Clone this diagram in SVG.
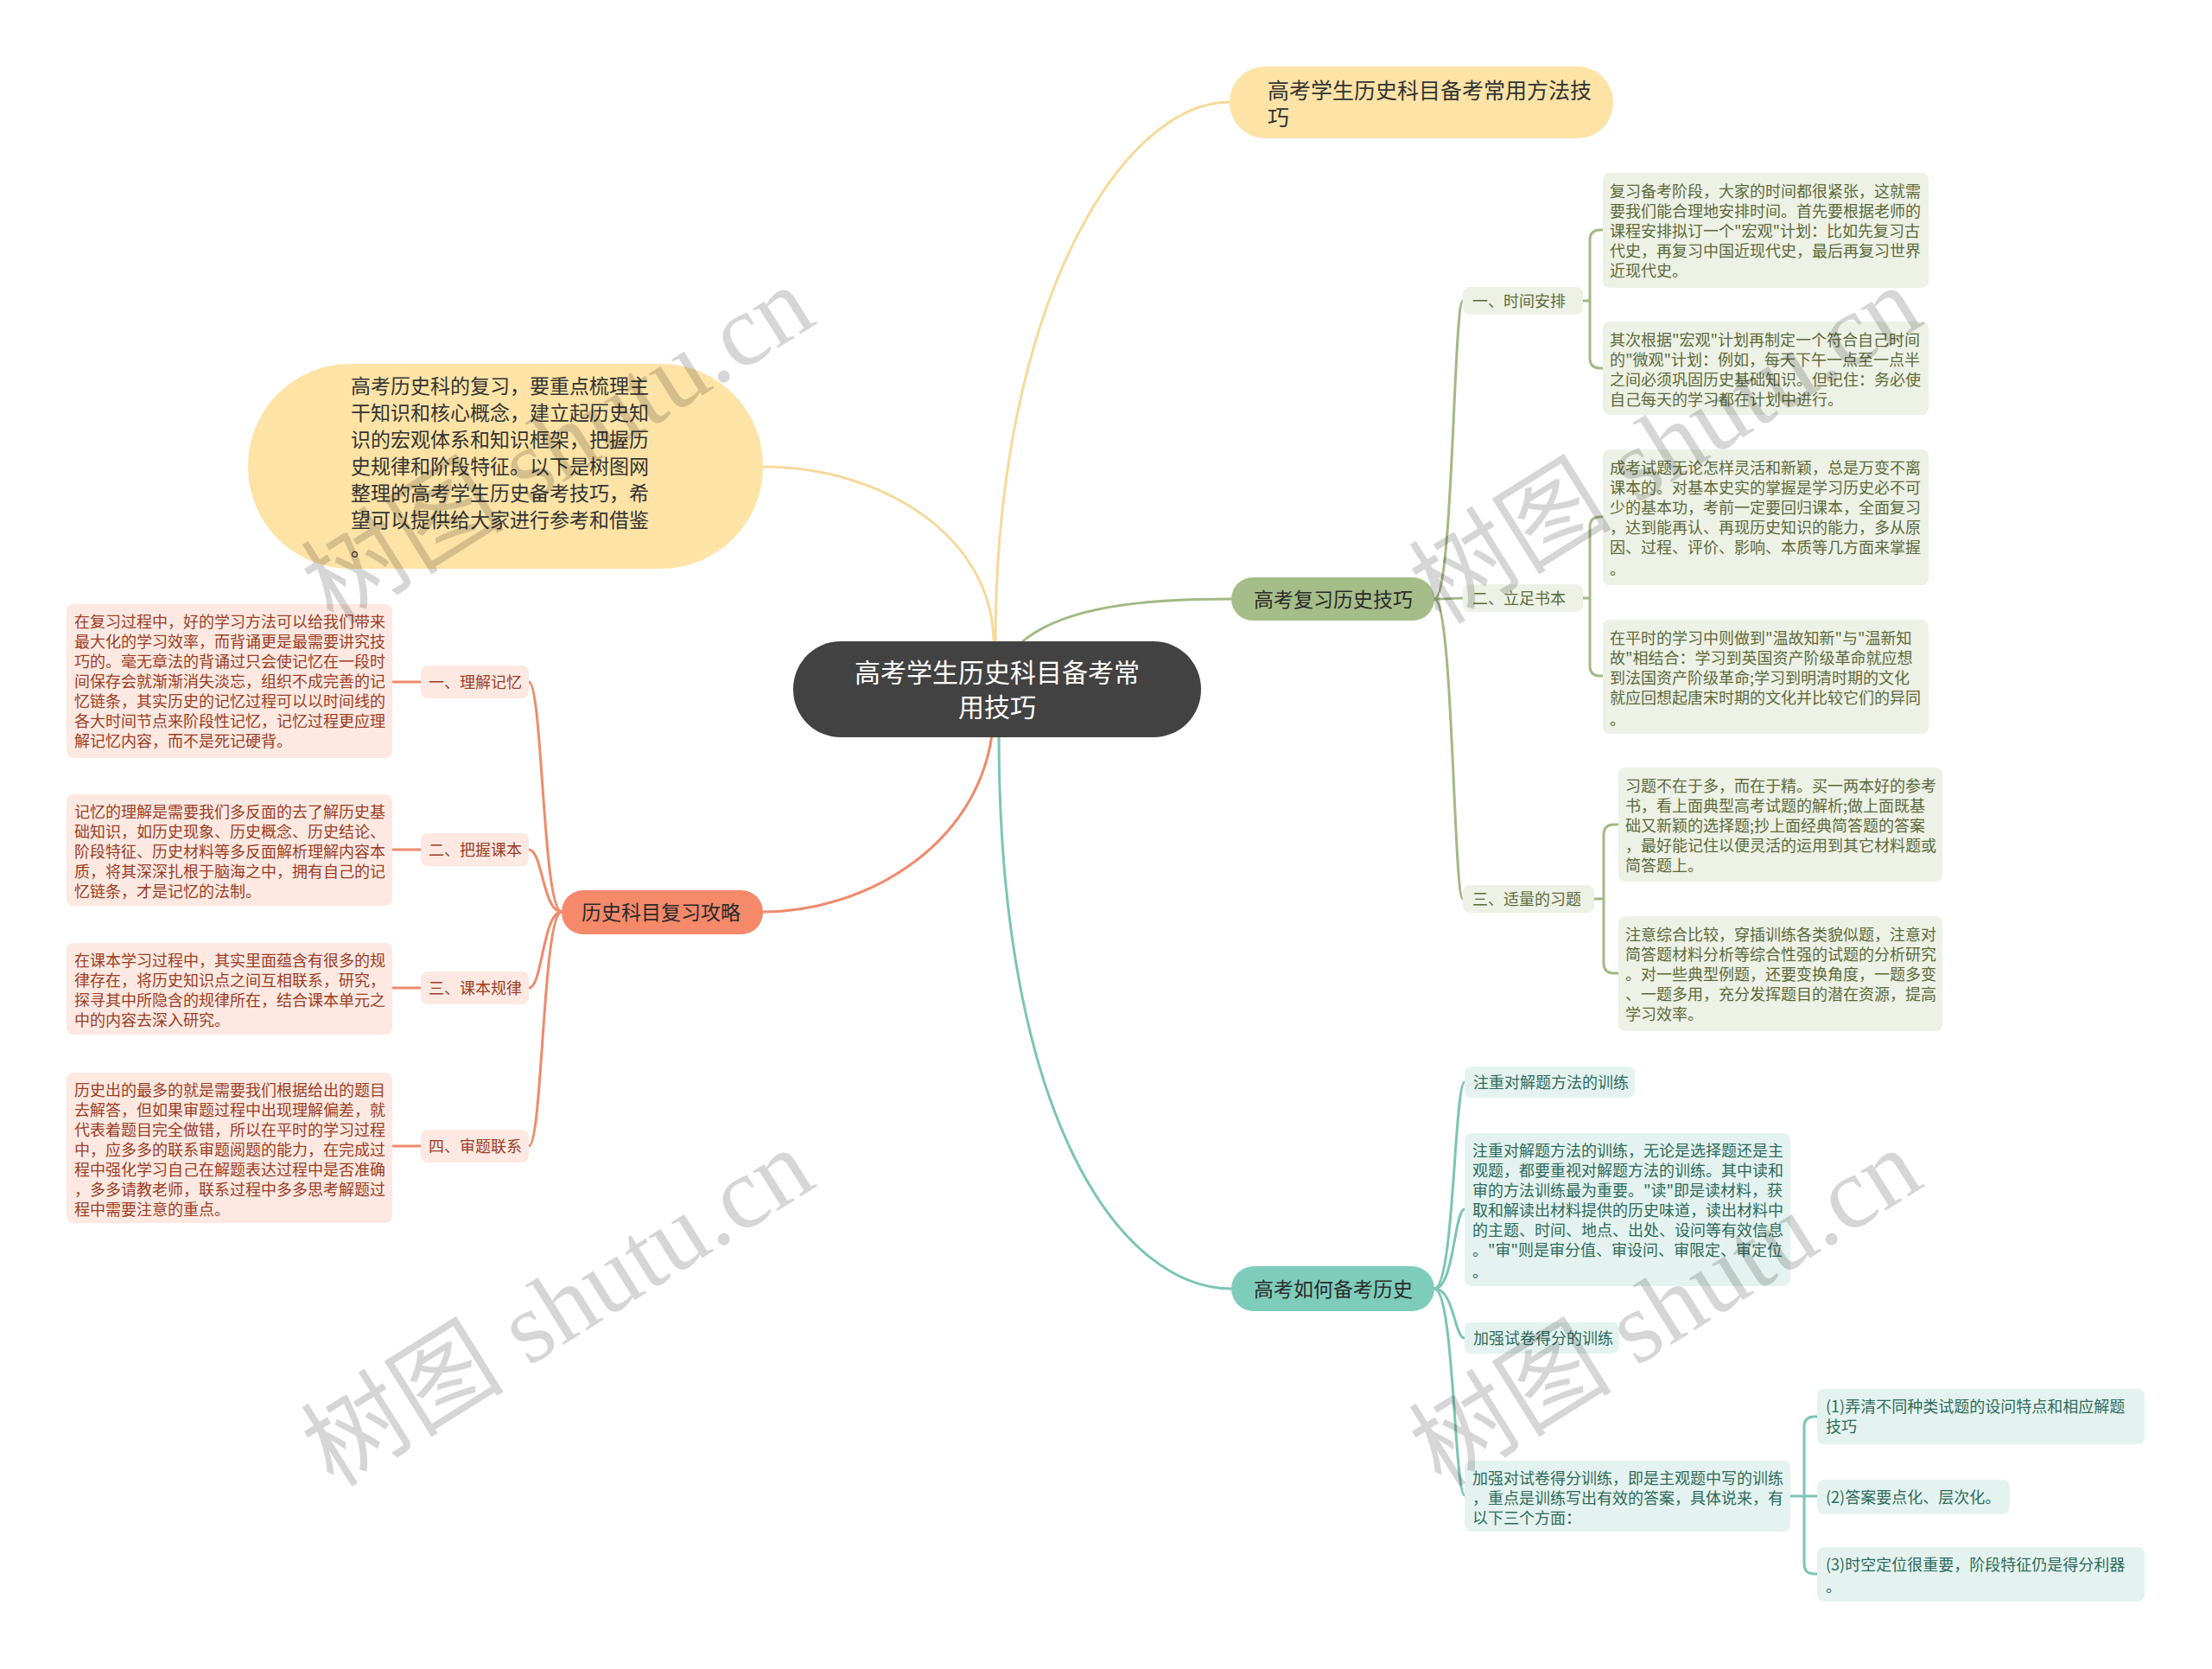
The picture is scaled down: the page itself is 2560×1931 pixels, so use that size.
<svg xmlns="http://www.w3.org/2000/svg" width="2560" height="1931" viewBox="0 0 2560 1931">
<style>
text{font-family:"Noto Sans CJK SC","Noto Sans",sans-serif;}
.c{fill:none;stroke-width:3;stroke-linecap:round}
.cy{stroke:#F7D99A}.cg{stroke:#A3B985}.co{stroke:#EE8B6C}.ct{stroke:#7CC5B3}
.bg{fill:#EEF1E6}.bo{fill:#FDE9E2}.bt{fill:#E4F3EF}
.tg{font-size:18px;fill:#5B6A3A}.to{font-size:18px;fill:#9C3D25}.tt{font-size:18px;fill:#2E6A5B}
.br{font-size:23px;fill:#2a2a2a}
.wm{font-family:"Liberation Serif","Noto Sans CJK SC",serif;font-size:118px;fill:#000;fill-opacity:0.16}
</style>
<rect width="2560" height="1931" fill="#fff"/>
<g id="connectors">
<path class="c cy" d="M1152,745 C1152,350 1300,118 1423,118"/>
<path class="c cy" d="M1150,745 C1150,620 1020,540 883,540"/>
<path class="c cg" d="M1180,745 C1230,700 1330,693 1425,693"/>
<path class="c co" d="M1148,850 C1130,980 1000,1055 883,1055"/>
<path class="c ct" d="M1156,850 C1156,1300 1300,1491 1425,1491"/>
<path class="c cg" d="M1660,693 C1682,693 1682,348 1693,348"/>
<path class="c cg" d="M1660,693 C1682,693 1682,692 1693,692"/>
<path class="c cg" d="M1660,693 C1682,693 1682,1040 1693,1040"/>
<path class="c cg" d="M1832,348 H1840 M1855,266 H1852 Q1840,266 1840,278 V414 Q1840,426 1852,426 H1855"/>
<path class="c cg" d="M1832,692 H1840 M1855,598 H1852 Q1840,598 1840,610 V770 Q1840,782 1852,782 H1855"/>
<path class="c cg" d="M1845,1040 H1856 M1873,954 H1868 Q1856,954 1856,966 V1114 Q1856,1126 1868,1126 H1873"/>
<path class="c co" d="M650,1055 C628,1055 628,789 612,789"/>
<path class="c co" d="M650,1055 C628,1055 628,983 612,983"/>
<path class="c co" d="M650,1055 C628,1055 628,1143 612,1143"/>
<path class="c co" d="M650,1055 C628,1055 628,1326 612,1326"/>
<path class="c co" d="M454,789 H487 M454,983 H487 M454,1143 H487 M454,1326 H487"/>
<path class="c ct" d="M1660,1491 C1683,1491 1683,1252 1695,1252"/>
<path class="c ct" d="M1660,1491 C1683,1491 1683,1399 1695,1399"/>
<path class="c ct" d="M1660,1491 C1683,1491 1683,1548 1695,1548"/>
<path class="c ct" d="M1660,1491 C1683,1491 1683,1730 1695,1730"/>
<path class="c ct" d="M2072,1731 H2103 M2103,1639 H2100 Q2088,1639 2088,1651 V1809 Q2088,1821 2100,1821 H2103"/>
</g>
<g id="root">
<rect x="918" y="742" width="472" height="111" rx="55" fill="#424242"/>
<text x="1154" y="789" font-size="30" fill="#fff" text-anchor="middle">高考学生历史科目备考常</text>
<text x="1154" y="829" font-size="30" fill="#fff" text-anchor="middle">用技巧</text>
</g>
<g id="n-top">
<rect x="1423" y="77" width="444" height="83" rx="41" fill="#FDE3A6"/>
<text x="1467" y="114" font-size="25" fill="#333">高考学生历史科目备考常用方法技</text>
<text x="1467" y="145" font-size="25" fill="#333">巧</text>
</g>
<g id="n-intro">
<rect x="287" y="421" width="596" height="237" rx="118" fill="#FDE3A6"/>
<g font-size="23" fill="#333">
<text x="406" y="455">高考历史科的复习，要重点梳理主</text>
<text x="406" y="486">干知识和核心概念，建立起历史知</text>
<text x="406" y="517">识的宏观体系和知识框架，把握历</text>
<text x="406" y="548">史规律和阶段特征。以下是树图网</text>
<text x="406" y="579">整理的高考学生历史备考技巧，希</text>
<text x="406" y="610">望可以提供给大家进行参考和借鉴</text>
<text x="406" y="643">。</text>
</g>
</g>
<g id="n-green">
<rect x="1425" y="668" width="235" height="50" rx="25" fill="#A5BD88"/>
<text class="br" x="1451" y="702">高考复习历史技巧</text>
</g>
<g id="n-orange">
<rect x="650" y="1030" width="233" height="51" rx="25" fill="#F5896A"/>
<text class="br" x="673" y="1064">历史科目复习攻略</text>
</g>
<g id="n-teal">
<rect x="1425" y="1465" width="235" height="52" rx="26" fill="#7ECDBB"/>
<text class="br" x="1451" y="1500">高考如何备考历史</text>
</g>
<g id="g-l1">
<rect class="bg" x="1693" y="332" width="139" height="32" rx="8"/>
<text class="tg" x="1704" y="355">一、时间安排</text>
</g>
<g id="g-l2">
<rect class="bg" x="1693" y="676" width="139" height="32" rx="8"/>
<text class="tg" x="1704" y="699">二、立足书本</text>
</g>
<g id="g-l3">
<rect class="bg" x="1693" y="1024" width="152" height="32" rx="8"/>
<text class="tg" x="1704" y="1047">三、适量的习题</text>
</g>
<g id="g-b1">
<rect class="bg" x="1855" y="200" width="377" height="133" rx="8"/>
<text class="tg" x="1863" y="228">复习备考阶段，大家的时间都很紧张，这就需</text>
<text class="tg" x="1863" y="251">要我们能合理地安排时间。首先要根据老师的</text>
<text class="tg" x="1863" y="274">课程安排拟订一个"宏观"计划：比如先复习古</text>
<text class="tg" x="1863" y="297">代史，再复习中国近现代史，最后再复习世界</text>
<text class="tg" x="1863" y="320">近现代史。</text>
</g>
<g id="g-b2">
<rect class="bg" x="1855" y="372" width="377" height="108" rx="8"/>
<text class="tg" x="1863" y="400">其次根据"宏观"计划再制定一个符合自己时间</text>
<text class="tg" x="1863" y="423">的"微观"计划：例如，每天下午一点至一点半</text>
<text class="tg" x="1863" y="446">之间必须巩固历史基础知识。但记住：务必使</text>
<text class="tg" x="1863" y="469">自己每天的学习都在计划中进行。</text>
</g>
<g id="g-b3">
<rect class="bg" x="1855" y="520" width="377" height="157" rx="8"/>
<text class="tg" x="1863" y="548">成考试题无论怎样灵活和新颖，总是万变不离</text>
<text class="tg" x="1863" y="571">课本的。对基本史实的掌握是学习历史必不可</text>
<text class="tg" x="1863" y="594">少的基本功，考前一定要回归课本，全面复习</text>
<text class="tg" x="1863" y="617">，达到能再认、再现历史知识的能力，多从原</text>
<text class="tg" x="1863" y="640">因、过程、评价、影响、本质等几方面来掌握</text>
<text class="tg" x="1863" y="665">。</text>
</g>
<g id="g-b4">
<rect class="bg" x="1855" y="717" width="377" height="132" rx="8"/>
<text class="tg" x="1863" y="745">在平时的学习中则做到"温故知新"与"温新知</text>
<text class="tg" x="1863" y="768">故"相结合：学习到英国资产阶级革命就应想</text>
<text class="tg" x="1863" y="791">到法国资产阶级革命;学习到明清时期的文化</text>
<text class="tg" x="1863" y="814">就应回想起唐宋时期的文化并比较它们的异同</text>
<text class="tg" x="1863" y="839">。</text>
</g>
<g id="g-b5">
<rect class="bg" x="1873" y="888" width="375" height="132" rx="8"/>
<text class="tg" x="1881" y="916">习题不在于多，而在于精。买一两本好的参考</text>
<text class="tg" x="1881" y="939">书，看上面典型高考试题的解析;做上面既基</text>
<text class="tg" x="1881" y="962">础又新颖的选择题;抄上面经典简答题的答案</text>
<text class="tg" x="1881" y="985">，最好能记住以便灵活的运用到其它材料题或</text>
<text class="tg" x="1881" y="1008">简答题上。</text>
</g>
<g id="g-b6">
<rect class="bg" x="1873" y="1060" width="375" height="133" rx="8"/>
<text class="tg" x="1881" y="1088">注意综合比较，穿插训练各类貌似题，注意对</text>
<text class="tg" x="1881" y="1111">简答题材料分析等综合性强的试题的分析研究</text>
<text class="tg" x="1881" y="1134">。对一些典型例题，还要变换角度，一题多变</text>
<text class="tg" x="1881" y="1157">、一题多用，充分发挥题目的潜在资源，提高</text>
<text class="tg" x="1881" y="1180">学习效率。</text>
</g>
<g id="o-l1">
<rect class="bo" x="487" y="770" width="125" height="38" rx="8"/>
<text class="to" x="496" y="796">一、理解记忆</text>
</g>
<g id="o-l2">
<rect class="bo" x="487" y="964" width="125" height="38" rx="8"/>
<text class="to" x="496" y="990">二、把握课本</text>
</g>
<g id="o-l3">
<rect class="bo" x="487" y="1124" width="125" height="38" rx="8"/>
<text class="to" x="496" y="1150">三、课本规律</text>
</g>
<g id="o-l4">
<rect class="bo" x="487" y="1307" width="125" height="38" rx="8"/>
<text class="to" x="496" y="1333">四、审题联系</text>
</g>
<g id="o-b1">
<rect class="bo" x="77" y="699" width="377" height="178" rx="8"/>
<text class="to" x="86" y="726">在复习过程中，好的学习方法可以给我们带来</text>
<text class="to" x="86" y="749">最大化的学习效率，而背诵更是最需要讲究技</text>
<text class="to" x="86" y="772">巧的。毫无章法的背诵过只会使记忆在一段时</text>
<text class="to" x="86" y="795">间保存会就渐渐消失淡忘，组织不成完善的记</text>
<text class="to" x="86" y="818">忆链条，其实历史的记忆过程可以以时间线的</text>
<text class="to" x="86" y="841">各大时间节点来阶段性记忆，记忆过程更应理</text>
<text class="to" x="86" y="864">解记忆内容，而不是死记硬背。</text>
</g>
<g id="o-b2">
<rect class="bo" x="77" y="919" width="377" height="129" rx="8"/>
<text class="to" x="86" y="946">记忆的理解是需要我们多反面的去了解历史基</text>
<text class="to" x="86" y="969">础知识，如历史现象、历史概念、历史结论、</text>
<text class="to" x="86" y="992">阶段特征、历史材料等多反面解析理解内容本</text>
<text class="to" x="86" y="1015">质，将其深深扎根于脑海之中，拥有自己的记</text>
<text class="to" x="86" y="1038">忆链条，才是记忆的法制。</text>
</g>
<g id="o-b3">
<rect class="bo" x="77" y="1091" width="377" height="106" rx="8"/>
<text class="to" x="86" y="1118">在课本学习过程中，其实里面蕴含有很多的规</text>
<text class="to" x="86" y="1141">律存在，将历史知识点之间互相联系，研究，</text>
<text class="to" x="86" y="1164">探寻其中所隐含的规律所在，结合课本单元之</text>
<text class="to" x="86" y="1187">中的内容去深入研究。</text>
</g>
<g id="o-b4">
<rect class="bo" x="77" y="1241" width="377" height="174" rx="8"/>
<text class="to" x="86" y="1268">历史出的最多的就是需要我们根据给出的题目</text>
<text class="to" x="86" y="1291">去解答，但如果审题过程中出现理解偏差，就</text>
<text class="to" x="86" y="1314">代表着题目完全做错，所以在平时的学习过程</text>
<text class="to" x="86" y="1337">中，应多多的联系审题阅题的能力，在完成过</text>
<text class="to" x="86" y="1360">程中强化学习自己在解题表达过程中是否准确</text>
<text class="to" x="86" y="1383">，多多请教老师，联系过程中多多思考解题过</text>
<text class="to" x="86" y="1406">程中需要注意的重点。</text>
</g>
<g id="t-1">
<rect class="bt" x="1695" y="1234" width="197" height="36" rx="8"/>
<text class="tt" x="1705" y="1259">注重对解题方法的训练</text>
</g>
<g id="t-2">
<rect class="bt" x="1695" y="1311" width="377" height="177" rx="8"/>
<text class="tt" x="1704" y="1338">注重对解题方法的训练，无论是选择题还是主</text>
<text class="tt" x="1704" y="1361">观题，都要重视对解题方法的训练。其中读和</text>
<text class="tt" x="1704" y="1384">审的方法训练最为重要。"读"即是读材料，获</text>
<text class="tt" x="1704" y="1407">取和解读出材料提供的历史味道，读出材料中</text>
<text class="tt" x="1704" y="1430">的主题、时间、地点、出处、设问等有效信息</text>
<text class="tt" x="1704" y="1453">。"审"则是审分值、审设问、审限定、审定位</text>
<text class="tt" x="1704" y="1478">。</text>
</g>
<g id="t-3">
<rect class="bt" x="1695" y="1530" width="179" height="36" rx="8"/>
<text class="tt" x="1705" y="1555">加强试卷得分的训练</text>
</g>
<g id="t-4">
<rect class="bt" x="1695" y="1690" width="377" height="82" rx="8"/>
<text class="tt" x="1704" y="1717">加强对试卷得分训练，即是主观题中写的训练</text>
<text class="tt" x="1704" y="1740">，重点是训练写出有效的答案，具体说来，有</text>
<text class="tt" x="1704" y="1763">以下三个方面：</text>
</g>
<g id="t-5">
<rect class="bt" x="2103" y="1607" width="379" height="64" rx="8"/>
<text class="tt" x="2113" y="1634">(1)弄清不同种类试题的设问特点和相应解题</text>
<text class="tt" x="2113" y="1657">技巧</text>
</g>
<g id="t-6">
<rect class="bt" x="2103" y="1712" width="223" height="40" rx="8"/>
<text class="tt" x="2113" y="1739">(2)答案要点化、层次化。</text>
</g>
<g id="t-7">
<rect class="bt" x="2103" y="1790" width="379" height="63" rx="8"/>
<text class="tt" x="2113" y="1817">(3)时空定位很重要，阶段特征仍是得分利器</text>
<text class="tt" x="2113" y="1842">。</text>
</g>
<g id="watermarks">
<text class="wm" x="645" y="555" text-anchor="middle" transform="rotate(-32 645 514)">树图 shutu.cn</text>
<text class="wm" x="645" y="1553" text-anchor="middle" transform="rotate(-32 645 1512)">树图 shutu.cn</text>
<text class="wm" x="1927" y="555" text-anchor="middle" transform="rotate(-32 1927 514)">树图 shutu.cn</text>
<text class="wm" x="1927" y="1553" text-anchor="middle" transform="rotate(-32 1927 1512)">树图 shutu.cn</text>
</g>
</svg>
